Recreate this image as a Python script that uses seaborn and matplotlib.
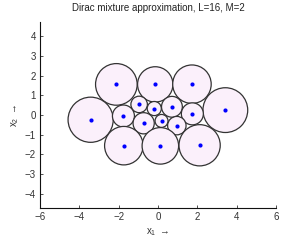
import matplotlib
matplotlib.use("Agg")
import matplotlib.pyplot as plt
from matplotlib.patches import Circle
import seaborn as sns
import pandas as pd

# Dirac component locations (x1, x2) and circle radii
x1 = [-2.12, -0.14, 1.73, 3.43, -3.43, -0.96, -0.19, 0.71,
      1.75, -1.76, -0.73, 0.18, 0.96, -1.74, 0.12, 2.12]
x2 = [1.56, 1.56, 1.57, 0.25, -0.24, 0.54, 0.33, 0.42,
      0.06, -0.05, -0.42, -0.30, -0.54, -1.56, -1.57, -1.54]
radius = [1.06, 0.90, 0.98, 1.14, 1.15, 0.42, 0.36, 0.53,
          0.56, 0.56, 0.54, 0.33, 0.47, 0.98, 0.93, 1.05]
ticks_x = [-6, -4, -2, 0, 2, 4, 6]
ticks_y = [-4, -3, -2, -1, 0, 1, 2, 3, 4]

df = pd.DataFrame({"x1": x1, "x2": x2, "r": radius})

sns.set_style("white")
plt.rcParams['font.family'] = ['Liberation Sans', 'DejaVu Sans']
plt.rcParams['mathtext.fontset'] = 'custom'
plt.rcParams['mathtext.rm'] = 'Liberation Sans'
plt.rcParams['mathtext.it'] = 'Liberation Sans'

fig = plt.figure(figsize=(2.84, 2.41), dpi=100)
ax = fig.add_axes([0.1408, 0.1357, 0.831, 0.774])

for _, row in df.iterrows():
    ax.add_patch(Circle((row.x1, row.x2), row.r, facecolor="#fbf0fb",
                        edgecolor="#333333", linewidth=0.9, zorder=1))

sns.scatterplot(data=df, x="x1", y="x2", ax=ax, color="#0000ff", s=9,
                linewidth=0, zorder=3, legend=False)

ax.set_xlim(-6, 6)
ax.set_ylim(-4.75, 4.75)
ax.set_aspect("equal", adjustable="box")
ax.set_xticks(ticks_x)
ax.set_yticks(ticks_y)
ax.tick_params(direction="in", length=2, width=0.6, labelsize=7, pad=3,
               colors="#333333", left=True, bottom=True)
sns.despine(ax=ax)
for s in ["left", "bottom"]:
    ax.spines[s].set_linewidth(0.8)
    ax.spines[s].set_color("#111111")

ax.set_title("Dirac mixture approximation, L=16, M=2", fontsize=7, pad=8,
             color="#222222")
ax.set_xlabel(r"$\mathregular{x_1\ \rightarrow}$", fontsize=7, labelpad=3,
              color="#333333")
ax.set_ylabel(r"$\mathregular{x_2\ \rightarrow}$", fontsize=7, labelpad=3,
              color="#333333")

fig.savefig("out.png", dpi=100)
